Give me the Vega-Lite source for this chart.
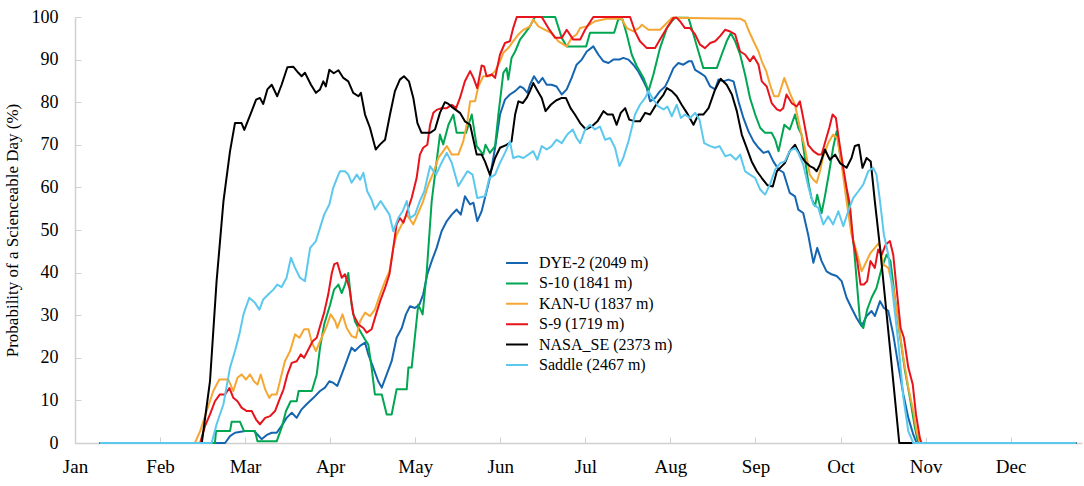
{
"$schema": "https://vega.github.io/schema/vega-lite/v6.json",
"width": 1007, "height": 426,
"autosize": {"type": "none"},
"padding": {"left": 75, "top": 17, "right": 2, "bottom": 43},
"background": "white",
"config": {"view": {"stroke": null}, "font": "Liberation Serif"},
"data": {"values": [
{"s":"DYE-2 (2049 m)","d":10,"v":0},{"s":"DYE-2 (2049 m)","d":55.7,"v":0},{"s":"DYE-2 (2049 m)","d":57.5,"v":1.6},{"s":"DYE-2 (2049 m)","d":59.3,"v":2.4},{"s":"DYE-2 (2049 m)","d":63,"v":2.8},{"s":"DYE-2 (2049 m)","d":66.2,"v":2.8},{"s":"DYE-2 (2049 m)","d":67.5,"v":2},{"s":"DYE-2 (2049 m)","d":69,"v":0.9},{"s":"DYE-2 (2049 m)","d":70.9,"v":1.9},{"s":"DYE-2 (2049 m)","d":72.7,"v":2.4},{"s":"DYE-2 (2049 m)","d":74.5,"v":2.4},{"s":"DYE-2 (2049 m)","d":76.3,"v":4},{"s":"DYE-2 (2049 m)","d":78.1,"v":5.9},{"s":"DYE-2 (2049 m)","d":80,"v":7.1},{"s":"DYE-2 (2049 m)","d":81.8,"v":5.9},{"s":"DYE-2 (2049 m)","d":83.6,"v":7.9},{"s":"DYE-2 (2049 m)","d":85.4,"v":9.1},{"s":"DYE-2 (2049 m)","d":87.9,"v":10.6},{"s":"DYE-2 (2049 m)","d":90.3,"v":12.2},{"s":"DYE-2 (2049 m)","d":92.1,"v":13},{"s":"DYE-2 (2049 m)","d":93.7,"v":14.5},{"s":"DYE-2 (2049 m)","d":95.2,"v":14.1},{"s":"DYE-2 (2049 m)","d":96.6,"v":13.4},{"s":"DYE-2 (2049 m)","d":98.2,"v":16.1},{"s":"DYE-2 (2049 m)","d":100,"v":19.2},{"s":"DYE-2 (2049 m)","d":101.8,"v":22.4},{"s":"DYE-2 (2049 m)","d":103,"v":21.6},{"s":"DYE-2 (2049 m)","d":104.9,"v":22.8},{"s":"DYE-2 (2049 m)","d":106.7,"v":23.6},{"s":"DYE-2 (2049 m)","d":107.9,"v":20.8},{"s":"DYE-2 (2049 m)","d":109.7,"v":17.7},{"s":"DYE-2 (2049 m)","d":111.5,"v":14.5},{"s":"DYE-2 (2049 m)","d":112.8,"v":13},{"s":"DYE-2 (2049 m)","d":114.6,"v":16.1},{"s":"DYE-2 (2049 m)","d":116.4,"v":19.2},{"s":"DYE-2 (2049 m)","d":118.2,"v":24.7},{"s":"DYE-2 (2049 m)","d":120.1,"v":27},{"s":"DYE-2 (2049 m)","d":121.6,"v":30.2},{"s":"DYE-2 (2049 m)","d":123.1,"v":32.1},{"s":"DYE-2 (2049 m)","d":124.9,"v":31.7},{"s":"DYE-2 (2049 m)","d":126.5,"v":32.5},{"s":"DYE-2 (2049 m)","d":127.9,"v":34.9},{"s":"DYE-2 (2049 m)","d":129.4,"v":39.6},{"s":"DYE-2 (2049 m)","d":131,"v":42.7},{"s":"DYE-2 (2049 m)","d":132.8,"v":45.8},{"s":"DYE-2 (2049 m)","d":134.6,"v":49.7},{"s":"DYE-2 (2049 m)","d":136.5,"v":52.1},{"s":"DYE-2 (2049 m)","d":138.3,"v":53.6},{"s":"DYE-2 (2049 m)","d":140.1,"v":54.8},{"s":"DYE-2 (2049 m)","d":141.6,"v":53.6},{"s":"DYE-2 (2049 m)","d":143.1,"v":57.9},{"s":"DYE-2 (2049 m)","d":145,"v":56},{"s":"DYE-2 (2049 m)","d":146.2,"v":56.4},{"s":"DYE-2 (2049 m)","d":147.6,"v":52.1},{"s":"DYE-2 (2049 m)","d":149.2,"v":54.4},{"s":"DYE-2 (2049 m)","d":150.4,"v":57.5},{"s":"DYE-2 (2049 m)","d":152.2,"v":62.2},{"s":"DYE-2 (2049 m)","d":154.1,"v":69.3},{"s":"DYE-2 (2049 m)","d":155.9,"v":77.1},{"s":"DYE-2 (2049 m)","d":157.7,"v":80.6},{"s":"DYE-2 (2049 m)","d":159.5,"v":81.8},{"s":"DYE-2 (2049 m)","d":161.4,"v":82.6},{"s":"DYE-2 (2049 m)","d":163.2,"v":83.7},{"s":"DYE-2 (2049 m)","d":164.4,"v":83.3},{"s":"DYE-2 (2049 m)","d":165.9,"v":82.2},{"s":"DYE-2 (2049 m)","d":166.8,"v":84.1},{"s":"DYE-2 (2049 m)","d":168.3,"v":86.1},{"s":"DYE-2 (2049 m)","d":169.9,"v":84.5},{"s":"DYE-2 (2049 m)","d":171.4,"v":85.7},{"s":"DYE-2 (2049 m)","d":172.9,"v":84.1},{"s":"DYE-2 (2049 m)","d":174.7,"v":84.1},{"s":"DYE-2 (2049 m)","d":176.5,"v":83.7},{"s":"DYE-2 (2049 m)","d":178.4,"v":81.8},{"s":"DYE-2 (2049 m)","d":180.2,"v":83},{"s":"DYE-2 (2049 m)","d":182,"v":85.7},{"s":"DYE-2 (2049 m)","d":183.8,"v":88.8},{"s":"DYE-2 (2049 m)","d":185.7,"v":90},{"s":"DYE-2 (2049 m)","d":187.5,"v":91.9},{"s":"DYE-2 (2049 m)","d":189.9,"v":93.1},{"s":"DYE-2 (2049 m)","d":191.7,"v":91.2},{"s":"DYE-2 (2049 m)","d":193.6,"v":89.6},{"s":"DYE-2 (2049 m)","d":195.4,"v":89.2},{"s":"DYE-2 (2049 m)","d":197.2,"v":90},{"s":"DYE-2 (2049 m)","d":199.4,"v":90},{"s":"DYE-2 (2049 m)","d":200.8,"v":90.4},{"s":"DYE-2 (2049 m)","d":202.7,"v":90},{"s":"DYE-2 (2049 m)","d":204.5,"v":88.8},{"s":"DYE-2 (2049 m)","d":206.3,"v":87.2},{"s":"DYE-2 (2049 m)","d":208.2,"v":84.9},{"s":"DYE-2 (2049 m)","d":209.4,"v":83.3},{"s":"DYE-2 (2049 m)","d":210.6,"v":80.2},{"s":"DYE-2 (2049 m)","d":212.4,"v":81},{"s":"DYE-2 (2049 m)","d":214.2,"v":82.6},{"s":"DYE-2 (2049 m)","d":216.1,"v":83.7},{"s":"DYE-2 (2049 m)","d":217.3,"v":85.3},{"s":"DYE-2 (2049 m)","d":219.1,"v":88},{"s":"DYE-2 (2049 m)","d":220.9,"v":89.2},{"s":"DYE-2 (2049 m)","d":222.7,"v":88.8},{"s":"DYE-2 (2049 m)","d":224.6,"v":89.6},{"s":"DYE-2 (2049 m)","d":225.8,"v":89.6},{"s":"DYE-2 (2049 m)","d":227,"v":87.6},{"s":"DYE-2 (2049 m)","d":228.8,"v":86.9},{"s":"DYE-2 (2049 m)","d":230.6,"v":86.1},{"s":"DYE-2 (2049 m)","d":232.5,"v":83.7},{"s":"DYE-2 (2049 m)","d":234.3,"v":83},{"s":"DYE-2 (2049 m)","d":235.5,"v":85.3},{"s":"DYE-2 (2049 m)","d":237.3,"v":84.9},{"s":"DYE-2 (2049 m)","d":239.1,"v":85.3},{"s":"DYE-2 (2049 m)","d":241,"v":84.9},{"s":"DYE-2 (2049 m)","d":242.8,"v":80.2},{"s":"DYE-2 (2049 m)","d":244.6,"v":76.3},{"s":"DYE-2 (2049 m)","d":246.4,"v":73.2},{"s":"DYE-2 (2049 m)","d":248.3,"v":70.8},{"s":"DYE-2 (2049 m)","d":250.1,"v":69.3},{"s":"DYE-2 (2049 m)","d":251.9,"v":68.1},{"s":"DYE-2 (2049 m)","d":253.7,"v":68.5},{"s":"DYE-2 (2049 m)","d":255.5,"v":66.1},{"s":"DYE-2 (2049 m)","d":257.4,"v":64.2},{"s":"DYE-2 (2049 m)","d":259.2,"v":63.5},{"s":"DYE-2 (2049 m)","d":261.5,"v":58.7},{"s":"DYE-2 (2049 m)","d":263.4,"v":57.9},{"s":"DYE-2 (2049 m)","d":264.6,"v":54.8},{"s":"DYE-2 (2049 m)","d":266.4,"v":54},{"s":"DYE-2 (2049 m)","d":268.2,"v":48.9},{"s":"DYE-2 (2049 m)","d":270.1,"v":42.3},{"s":"DYE-2 (2049 m)","d":271.5,"v":45.8},{"s":"DYE-2 (2049 m)","d":273.1,"v":42.7},{"s":"DYE-2 (2049 m)","d":274.9,"v":40.3},{"s":"DYE-2 (2049 m)","d":276.7,"v":39.6},{"s":"DYE-2 (2049 m)","d":278.6,"v":39.2},{"s":"DYE-2 (2049 m)","d":280.4,"v":38},{"s":"DYE-2 (2049 m)","d":282.2,"v":34.1},{"s":"DYE-2 (2049 m)","d":284,"v":31.7},{"s":"DYE-2 (2049 m)","d":285.8,"v":29.4},{"s":"DYE-2 (2049 m)","d":287.7,"v":27.4},{"s":"DYE-2 (2049 m)","d":289.5,"v":29.8},{"s":"DYE-2 (2049 m)","d":291.3,"v":31},{"s":"DYE-2 (2049 m)","d":292.5,"v":29.8},{"s":"DYE-2 (2049 m)","d":294.4,"v":33.3},{"s":"DYE-2 (2049 m)","d":295.8,"v":31.7},{"s":"DYE-2 (2049 m)","d":297.4,"v":31},{"s":"DYE-2 (2049 m)","d":299.2,"v":25.5},{"s":"DYE-2 (2049 m)","d":301,"v":18.4},{"s":"DYE-2 (2049 m)","d":302.9,"v":11.4},{"s":"DYE-2 (2049 m)","d":304.7,"v":5.9},{"s":"DYE-2 (2049 m)","d":306.5,"v":2},{"s":"DYE-2 (2049 m)","d":307.7,"v":0},{"s":"DYE-2 (2049 m)","d":366,"v":0},
{"s":"S-10 (1841 m)","d":10,"v":0},{"s":"S-10 (1841 m)","d":52,"v":0},{"s":"S-10 (1841 m)","d":52.4,"v":2.8},{"s":"S-10 (1841 m)","d":57.5,"v":2.8},{"s":"S-10 (1841 m)","d":58.1,"v":5},{"s":"S-10 (1841 m)","d":61.1,"v":5},{"s":"S-10 (1841 m)","d":62.6,"v":2.8},{"s":"S-10 (1841 m)","d":66.6,"v":2.8},{"s":"S-10 (1841 m)","d":67.5,"v":0.4},{"s":"S-10 (1841 m)","d":74.5,"v":0.4},{"s":"S-10 (1841 m)","d":76.3,"v":3.6},{"s":"S-10 (1841 m)","d":77.9,"v":7.5},{"s":"S-10 (1841 m)","d":79.6,"v":9.8},{"s":"S-10 (1841 m)","d":81.8,"v":9.8},{"s":"S-10 (1841 m)","d":82.5,"v":12.2},{"s":"S-10 (1841 m)","d":87.3,"v":12.2},{"s":"S-10 (1841 m)","d":89.1,"v":16.1},{"s":"S-10 (1841 m)","d":90.3,"v":22.4},{"s":"S-10 (1841 m)","d":91.8,"v":27.8},{"s":"S-10 (1841 m)","d":94,"v":32.5},{"s":"S-10 (1841 m)","d":95.4,"v":36},{"s":"S-10 (1841 m)","d":97,"v":37.2},{"s":"S-10 (1841 m)","d":98.2,"v":35.2},{"s":"S-10 (1841 m)","d":99.4,"v":37.2},{"s":"S-10 (1841 m)","d":100.6,"v":39.9},{"s":"S-10 (1841 m)","d":101.8,"v":32.5},{"s":"S-10 (1841 m)","d":103,"v":28.6},{"s":"S-10 (1841 m)","d":104.9,"v":26.3},{"s":"S-10 (1841 m)","d":106.7,"v":24.3},{"s":"S-10 (1841 m)","d":107.9,"v":23.1},{"s":"S-10 (1841 m)","d":109.1,"v":17.7},{"s":"S-10 (1841 m)","d":110.3,"v":11.4},{"s":"S-10 (1841 m)","d":112.8,"v":11.4},{"s":"S-10 (1841 m)","d":114.6,"v":6.7},{"s":"S-10 (1841 m)","d":116.4,"v":6.7},{"s":"S-10 (1841 m)","d":118.2,"v":12.6},{"s":"S-10 (1841 m)","d":121.9,"v":12.6},{"s":"S-10 (1841 m)","d":122.5,"v":17.7},{"s":"S-10 (1841 m)","d":123.7,"v":17.7},{"s":"S-10 (1841 m)","d":126.1,"v":32.5},{"s":"S-10 (1841 m)","d":127.7,"v":30.2},{"s":"S-10 (1841 m)","d":129.2,"v":40.3},{"s":"S-10 (1841 m)","d":131,"v":56.8},{"s":"S-10 (1841 m)","d":132.2,"v":63},{"s":"S-10 (1841 m)","d":134,"v":72.4},{"s":"S-10 (1841 m)","d":135.2,"v":70.1},{"s":"S-10 (1841 m)","d":137.1,"v":74.7},{"s":"S-10 (1841 m)","d":138.9,"v":77.1},{"s":"S-10 (1841 m)","d":140.1,"v":72.8},{"s":"S-10 (1841 m)","d":143.5,"v":72.8},{"s":"S-10 (1841 m)","d":145.6,"v":77.1},{"s":"S-10 (1841 m)","d":147.4,"v":69.7},{"s":"S-10 (1841 m)","d":149.8,"v":67.7},{"s":"S-10 (1841 m)","d":150.6,"v":70},{"s":"S-10 (1841 m)","d":152.2,"v":68.1},{"s":"S-10 (1841 m)","d":154.1,"v":69.7},{"s":"S-10 (1841 m)","d":155.3,"v":77.1},{"s":"S-10 (1841 m)","d":157.1,"v":86.9},{"s":"S-10 (1841 m)","d":158.3,"v":88},{"s":"S-10 (1841 m)","d":158.9,"v":85.3},{"s":"S-10 (1841 m)","d":160.1,"v":90.4},{"s":"S-10 (1841 m)","d":161.4,"v":91.9},{"s":"S-10 (1841 m)","d":163.2,"v":94.7},{"s":"S-10 (1841 m)","d":165,"v":96.2},{"s":"S-10 (1841 m)","d":166.8,"v":97.8},{"s":"S-10 (1841 m)","d":168.6,"v":100},{"s":"S-10 (1841 m)","d":176,"v":100},{"s":"S-10 (1841 m)","d":178.4,"v":95.1},{"s":"S-10 (1841 m)","d":180.2,"v":93.1},{"s":"S-10 (1841 m)","d":187.3,"v":93.1},{"s":"S-10 (1841 m)","d":188.7,"v":96.3},{"s":"S-10 (1841 m)","d":197.5,"v":96.3},{"s":"S-10 (1841 m)","d":199,"v":99.5},{"s":"S-10 (1841 m)","d":200.5,"v":99.5},{"s":"S-10 (1841 m)","d":202.1,"v":95.9},{"s":"S-10 (1841 m)","d":203.9,"v":91.2},{"s":"S-10 (1841 m)","d":205.7,"v":88.5},{"s":"S-10 (1841 m)","d":208.2,"v":85.7},{"s":"S-10 (1841 m)","d":210,"v":82.6},{"s":"S-10 (1841 m)","d":211.8,"v":86.5},{"s":"S-10 (1841 m)","d":214.2,"v":92.7},{"s":"S-10 (1841 m)","d":216.7,"v":97.4},{"s":"S-10 (1841 m)","d":218.5,"v":99},{"s":"S-10 (1841 m)","d":219.7,"v":99.8},{"s":"S-10 (1841 m)","d":224.6,"v":99.8},{"s":"S-10 (1841 m)","d":226.4,"v":95.9},{"s":"S-10 (1841 m)","d":228.2,"v":91.9},{"s":"S-10 (1841 m)","d":230,"v":88},{"s":"S-10 (1841 m)","d":234.9,"v":88},{"s":"S-10 (1841 m)","d":236.7,"v":91.2},{"s":"S-10 (1841 m)","d":238.5,"v":94.3},{"s":"S-10 (1841 m)","d":240,"v":96.2},{"s":"S-10 (1841 m)","d":241.6,"v":94.3},{"s":"S-10 (1841 m)","d":243.4,"v":91.2},{"s":"S-10 (1841 m)","d":245.2,"v":86.5},{"s":"S-10 (1841 m)","d":247,"v":81},{"s":"S-10 (1841 m)","d":248.9,"v":77.1},{"s":"S-10 (1841 m)","d":250.7,"v":74},{"s":"S-10 (1841 m)","d":252.5,"v":72.8},{"s":"S-10 (1841 m)","d":254.9,"v":72.8},{"s":"S-10 (1841 m)","d":256.2,"v":71.2},{"s":"S-10 (1841 m)","d":257.4,"v":68.5},{"s":"S-10 (1841 m)","d":259.5,"v":74.7},{"s":"S-10 (1841 m)","d":261.5,"v":73.6},{"s":"S-10 (1841 m)","d":263.4,"v":77.1},{"s":"S-10 (1841 m)","d":264.6,"v":74},{"s":"S-10 (1841 m)","d":265.8,"v":72.4},{"s":"S-10 (1841 m)","d":267,"v":66.9},{"s":"S-10 (1841 m)","d":268.2,"v":61.4},{"s":"S-10 (1841 m)","d":269.4,"v":57.5},{"s":"S-10 (1841 m)","d":270.7,"v":55.6},{"s":"S-10 (1841 m)","d":271.5,"v":58.3},{"s":"S-10 (1841 m)","d":273.1,"v":54},{"s":"S-10 (1841 m)","d":274.3,"v":57.9},{"s":"S-10 (1841 m)","d":275.9,"v":63.8},{"s":"S-10 (1841 m)","d":277.3,"v":69.3},{"s":"S-10 (1841 m)","d":278.6,"v":73.2},{"s":"S-10 (1841 m)","d":279.8,"v":67.7},{"s":"S-10 (1841 m)","d":281.6,"v":61.4},{"s":"S-10 (1841 m)","d":283.4,"v":53.6},{"s":"S-10 (1841 m)","d":284.9,"v":45.8},{"s":"S-10 (1841 m)","d":286.1,"v":36.4},{"s":"S-10 (1841 m)","d":287.1,"v":28.6},{"s":"S-10 (1841 m)","d":288.3,"v":27},{"s":"S-10 (1841 m)","d":289.7,"v":31.3},{"s":"S-10 (1841 m)","d":291.3,"v":34.1},{"s":"S-10 (1841 m)","d":293.1,"v":36.4},{"s":"S-10 (1841 m)","d":295,"v":41.1},{"s":"S-10 (1841 m)","d":296.8,"v":44.2},{"s":"S-10 (1841 m)","d":298.2,"v":42.7},{"s":"S-10 (1841 m)","d":299.8,"v":34.1},{"s":"S-10 (1841 m)","d":301.6,"v":25.5},{"s":"S-10 (1841 m)","d":303.5,"v":16.9},{"s":"S-10 (1841 m)","d":305.3,"v":10.6},{"s":"S-10 (1841 m)","d":307.1,"v":3.6},{"s":"S-10 (1841 m)","d":308.3,"v":0},{"s":"S-10 (1841 m)","d":366,"v":0},
{"s":"KAN-U (1837 m)","d":10,"v":0},{"s":"KAN-U (1837 m)","d":44.7,"v":0},{"s":"KAN-U (1837 m)","d":46.6,"v":2.8},{"s":"KAN-U (1837 m)","d":49,"v":7.5},{"s":"KAN-U (1837 m)","d":51.4,"v":12.2},{"s":"KAN-U (1837 m)","d":53.6,"v":14.9},{"s":"KAN-U (1837 m)","d":56.9,"v":14.9},{"s":"KAN-U (1837 m)","d":58.7,"v":12.2},{"s":"KAN-U (1837 m)","d":60.2,"v":15.3},{"s":"KAN-U (1837 m)","d":61.7,"v":16.1},{"s":"KAN-U (1837 m)","d":63.3,"v":14.9},{"s":"KAN-U (1837 m)","d":64.8,"v":16.1},{"s":"KAN-U (1837 m)","d":66.2,"v":14.5},{"s":"KAN-U (1837 m)","d":67.5,"v":13.7},{"s":"KAN-U (1837 m)","d":68.7,"v":16.1},{"s":"KAN-U (1837 m)","d":70.3,"v":12.6},{"s":"KAN-U (1837 m)","d":71.8,"v":10.6},{"s":"KAN-U (1837 m)","d":72.7,"v":11.4},{"s":"KAN-U (1837 m)","d":74.5,"v":11.4},{"s":"KAN-U (1837 m)","d":76,"v":15.3},{"s":"KAN-U (1837 m)","d":77.5,"v":19.2},{"s":"KAN-U (1837 m)","d":79.4,"v":21.6},{"s":"KAN-U (1837 m)","d":81.2,"v":25.5},{"s":"KAN-U (1837 m)","d":82.8,"v":24.7},{"s":"KAN-U (1837 m)","d":84.5,"v":26.7},{"s":"KAN-U (1837 m)","d":86.1,"v":26.7},{"s":"KAN-U (1837 m)","d":87.3,"v":23.6},{"s":"KAN-U (1837 m)","d":88.8,"v":21.6},{"s":"KAN-U (1837 m)","d":90.6,"v":24.3},{"s":"KAN-U (1837 m)","d":92.7,"v":27.4},{"s":"KAN-U (1837 m)","d":94.2,"v":30.2},{"s":"KAN-U (1837 m)","d":95.8,"v":28.6},{"s":"KAN-U (1837 m)","d":96.6,"v":27},{"s":"KAN-U (1837 m)","d":98.5,"v":30.2},{"s":"KAN-U (1837 m)","d":100,"v":27},{"s":"KAN-U (1837 m)","d":101.8,"v":25.1},{"s":"KAN-U (1837 m)","d":103.4,"v":24.7},{"s":"KAN-U (1837 m)","d":104.9,"v":28.6},{"s":"KAN-U (1837 m)","d":106.7,"v":30.6},{"s":"KAN-U (1837 m)","d":108.5,"v":29.8},{"s":"KAN-U (1837 m)","d":110.3,"v":31.3},{"s":"KAN-U (1837 m)","d":112.2,"v":34.9},{"s":"KAN-U (1837 m)","d":114,"v":38},{"s":"KAN-U (1837 m)","d":115.6,"v":40.3},{"s":"KAN-U (1837 m)","d":117,"v":45.8},{"s":"KAN-U (1837 m)","d":118.2,"v":48.9},{"s":"KAN-U (1837 m)","d":120.1,"v":51.3},{"s":"KAN-U (1837 m)","d":121.9,"v":53.6},{"s":"KAN-U (1837 m)","d":124.3,"v":51.3},{"s":"KAN-U (1837 m)","d":126.1,"v":54},{"s":"KAN-U (1837 m)","d":127.9,"v":56.8},{"s":"KAN-U (1837 m)","d":129.8,"v":60.7},{"s":"KAN-U (1837 m)","d":131.6,"v":63.4},{"s":"KAN-U (1837 m)","d":133.4,"v":66.9},{"s":"KAN-U (1837 m)","d":135.2,"v":68.5},{"s":"KAN-U (1837 m)","d":136.5,"v":69.7},{"s":"KAN-U (1837 m)","d":138.3,"v":67.7},{"s":"KAN-U (1837 m)","d":140.7,"v":67.7},{"s":"KAN-U (1837 m)","d":142.5,"v":70.8},{"s":"KAN-U (1837 m)","d":144,"v":75.5},{"s":"KAN-U (1837 m)","d":145,"v":80.2},{"s":"KAN-U (1837 m)","d":146.8,"v":80.2},{"s":"KAN-U (1837 m)","d":148,"v":83.7},{"s":"KAN-U (1837 m)","d":149.8,"v":86.1},{"s":"KAN-U (1837 m)","d":152.2,"v":86.1},{"s":"KAN-U (1837 m)","d":154.1,"v":87.3},{"s":"KAN-U (1837 m)","d":155.9,"v":89.6},{"s":"KAN-U (1837 m)","d":157.1,"v":91.6},{"s":"KAN-U (1837 m)","d":158.9,"v":92.7},{"s":"KAN-U (1837 m)","d":160.7,"v":94.3},{"s":"KAN-U (1837 m)","d":162.6,"v":95.9},{"s":"KAN-U (1837 m)","d":164.4,"v":97},{"s":"KAN-U (1837 m)","d":166.8,"v":97.8},{"s":"KAN-U (1837 m)","d":168,"v":99.4},{"s":"KAN-U (1837 m)","d":169.9,"v":97.8},{"s":"KAN-U (1837 m)","d":172.3,"v":97},{"s":"KAN-U (1837 m)","d":174.7,"v":96.2},{"s":"KAN-U (1837 m)","d":177.2,"v":94.3},{"s":"KAN-U (1837 m)","d":180.2,"v":93.1},{"s":"KAN-U (1837 m)","d":182,"v":95.1},{"s":"KAN-U (1837 m)","d":183.8,"v":95.9},{"s":"KAN-U (1837 m)","d":185.1,"v":97.4},{"s":"KAN-U (1837 m)","d":187.5,"v":97.8},{"s":"KAN-U (1837 m)","d":190.5,"v":99},{"s":"KAN-U (1837 m)","d":194.8,"v":99.6},{"s":"KAN-U (1837 m)","d":200.2,"v":99.6},{"s":"KAN-U (1837 m)","d":202.1,"v":97.4},{"s":"KAN-U (1837 m)","d":204.5,"v":96.6},{"s":"KAN-U (1837 m)","d":206.7,"v":97.5},{"s":"KAN-U (1837 m)","d":207.6,"v":98.2},{"s":"KAN-U (1837 m)","d":210,"v":97},{"s":"KAN-U (1837 m)","d":214.2,"v":97},{"s":"KAN-U (1837 m)","d":216.7,"v":98.6},{"s":"KAN-U (1837 m)","d":218.5,"v":99.8},{"s":"KAN-U (1837 m)","d":243.4,"v":99.6},{"s":"KAN-U (1837 m)","d":245.2,"v":99},{"s":"KAN-U (1837 m)","d":246.4,"v":97},{"s":"KAN-U (1837 m)","d":248.3,"v":94.3},{"s":"KAN-U (1837 m)","d":250.1,"v":91.9},{"s":"KAN-U (1837 m)","d":251.3,"v":89.6},{"s":"KAN-U (1837 m)","d":252.9,"v":87.3},{"s":"KAN-U (1837 m)","d":254.3,"v":84.1},{"s":"KAN-U (1837 m)","d":255.8,"v":81.4},{"s":"KAN-U (1837 m)","d":257.4,"v":81.4},{"s":"KAN-U (1837 m)","d":259.5,"v":85.7},{"s":"KAN-U (1837 m)","d":261.5,"v":82.2},{"s":"KAN-U (1837 m)","d":263.4,"v":79.4},{"s":"KAN-U (1837 m)","d":265.2,"v":74},{"s":"KAN-U (1837 m)","d":267,"v":69.3},{"s":"KAN-U (1837 m)","d":268.8,"v":63},{"s":"KAN-U (1837 m)","d":270.1,"v":61.8},{"s":"KAN-U (1837 m)","d":271.3,"v":61.1},{"s":"KAN-U (1837 m)","d":272.5,"v":63.8},{"s":"KAN-U (1837 m)","d":273.7,"v":67.3},{"s":"KAN-U (1837 m)","d":275.5,"v":70.4},{"s":"KAN-U (1837 m)","d":277.3,"v":72.4},{"s":"KAN-U (1837 m)","d":278.8,"v":71.6},{"s":"KAN-U (1837 m)","d":280.4,"v":65.4},{"s":"KAN-U (1837 m)","d":282.2,"v":56.7},{"s":"KAN-U (1837 m)","d":284,"v":48.9},{"s":"KAN-U (1837 m)","d":285.8,"v":45},{"s":"KAN-U (1837 m)","d":287.7,"v":40.3},{"s":"KAN-U (1837 m)","d":289.2,"v":42.3},{"s":"KAN-U (1837 m)","d":290.9,"v":44.6},{"s":"KAN-U (1837 m)","d":292.5,"v":45.8},{"s":"KAN-U (1837 m)","d":294,"v":47},{"s":"KAN-U (1837 m)","d":295.6,"v":41.9},{"s":"KAN-U (1837 m)","d":297.4,"v":41.1},{"s":"KAN-U (1837 m)","d":299.2,"v":36.4},{"s":"KAN-U (1837 m)","d":301,"v":28.6},{"s":"KAN-U (1837 m)","d":302.9,"v":20},{"s":"KAN-U (1837 m)","d":304.7,"v":13},{"s":"KAN-U (1837 m)","d":306.5,"v":7.5},{"s":"KAN-U (1837 m)","d":307.7,"v":2.8},{"s":"KAN-U (1837 m)","d":308.9,"v":0},{"s":"KAN-U (1837 m)","d":366,"v":0},
{"s":"S-9 (1719 m)","d":10,"v":0},{"s":"S-9 (1719 m)","d":46.6,"v":0},{"s":"S-9 (1719 m)","d":48.4,"v":4},{"s":"S-9 (1719 m)","d":50.2,"v":6.7},{"s":"S-9 (1719 m)","d":52,"v":9.8},{"s":"S-9 (1719 m)","d":53.8,"v":11.4},{"s":"S-9 (1719 m)","d":55.7,"v":11.4},{"s":"S-9 (1719 m)","d":57.3,"v":12.9},{"s":"S-9 (1719 m)","d":58.7,"v":10.6},{"s":"S-9 (1719 m)","d":60.2,"v":9.8},{"s":"S-9 (1719 m)","d":61.7,"v":8.3},{"s":"S-9 (1719 m)","d":63.6,"v":7.5},{"s":"S-9 (1719 m)","d":65.4,"v":7.5},{"s":"S-9 (1719 m)","d":67,"v":5.5},{"s":"S-9 (1719 m)","d":68.4,"v":4.4},{"s":"S-9 (1719 m)","d":70.3,"v":5.9},{"s":"S-9 (1719 m)","d":72.1,"v":6.3},{"s":"S-9 (1719 m)","d":73.9,"v":7.5},{"s":"S-9 (1719 m)","d":75.5,"v":10.2},{"s":"S-9 (1719 m)","d":77,"v":12.6},{"s":"S-9 (1719 m)","d":78.4,"v":16.1},{"s":"S-9 (1719 m)","d":80,"v":18.8},{"s":"S-9 (1719 m)","d":81.8,"v":19.2},{"s":"S-9 (1719 m)","d":83.3,"v":20.8},{"s":"S-9 (1719 m)","d":84.5,"v":20},{"s":"S-9 (1719 m)","d":86.1,"v":22},{"s":"S-9 (1719 m)","d":87.6,"v":23.9},{"s":"S-9 (1719 m)","d":89.1,"v":24.7},{"s":"S-9 (1719 m)","d":90.3,"v":27.4},{"s":"S-9 (1719 m)","d":91.8,"v":30.6},{"s":"S-9 (1719 m)","d":93.3,"v":34.9},{"s":"S-9 (1719 m)","d":94.6,"v":39.9},{"s":"S-9 (1719 m)","d":95.5,"v":42},{"s":"S-9 (1719 m)","d":96.6,"v":42.3},{"s":"S-9 (1719 m)","d":98.2,"v":38.8},{"s":"S-9 (1719 m)","d":99.4,"v":39.6},{"s":"S-9 (1719 m)","d":101,"v":36.4},{"s":"S-9 (1719 m)","d":102.4,"v":30.2},{"s":"S-9 (1719 m)","d":104.3,"v":27.8},{"s":"S-9 (1719 m)","d":106.1,"v":27},{"s":"S-9 (1719 m)","d":107.3,"v":25.9},{"s":"S-9 (1719 m)","d":109.1,"v":26.7},{"s":"S-9 (1719 m)","d":110.7,"v":30.2},{"s":"S-9 (1719 m)","d":112.2,"v":33.3},{"s":"S-9 (1719 m)","d":114,"v":36.4},{"s":"S-9 (1719 m)","d":115.6,"v":39.6},{"s":"S-9 (1719 m)","d":117,"v":45.8},{"s":"S-9 (1719 m)","d":118.2,"v":51.3},{"s":"S-9 (1719 m)","d":119.4,"v":52.8},{"s":"S-9 (1719 m)","d":120.7,"v":51.7},{"s":"S-9 (1719 m)","d":122.1,"v":54.4},{"s":"S-9 (1719 m)","d":123.7,"v":57.5},{"s":"S-9 (1719 m)","d":125.5,"v":62.2},{"s":"S-9 (1719 m)","d":126.7,"v":67.7},{"s":"S-9 (1719 m)","d":127.9,"v":69.3},{"s":"S-9 (1719 m)","d":129.4,"v":70},{"s":"S-9 (1719 m)","d":130.4,"v":74.7},{"s":"S-9 (1719 m)","d":131.6,"v":77.5},{"s":"S-9 (1719 m)","d":132.8,"v":78.2},{"s":"S-9 (1719 m)","d":134.6,"v":78.6},{"s":"S-9 (1719 m)","d":136.5,"v":78.6},{"s":"S-9 (1719 m)","d":138.3,"v":79.4},{"s":"S-9 (1719 m)","d":139.9,"v":78.6},{"s":"S-9 (1719 m)","d":141.3,"v":81},{"s":"S-9 (1719 m)","d":143.1,"v":84.9},{"s":"S-9 (1719 m)","d":145,"v":87.3},{"s":"S-9 (1719 m)","d":146.2,"v":85.7},{"s":"S-9 (1719 m)","d":147.6,"v":83.3},{"s":"S-9 (1719 m)","d":149.2,"v":88.6},{"s":"S-9 (1719 m)","d":150.1,"v":88.4},{"s":"S-9 (1719 m)","d":151,"v":86.1},{"s":"S-9 (1719 m)","d":152.9,"v":86.5},{"s":"S-9 (1719 m)","d":154.1,"v":85.7},{"s":"S-9 (1719 m)","d":155.9,"v":91.2},{"s":"S-9 (1719 m)","d":157.7,"v":93.9},{"s":"S-9 (1719 m)","d":159.5,"v":94.3},{"s":"S-9 (1719 m)","d":160.7,"v":97.4},{"s":"S-9 (1719 m)","d":162,"v":100},{"s":"S-9 (1719 m)","d":171.1,"v":100},{"s":"S-9 (1719 m)","d":173.5,"v":97.4},{"s":"S-9 (1719 m)","d":176,"v":95.1},{"s":"S-9 (1719 m)","d":178.4,"v":95.1},{"s":"S-9 (1719 m)","d":180.2,"v":97},{"s":"S-9 (1719 m)","d":182.6,"v":94.7},{"s":"S-9 (1719 m)","d":185.1,"v":94.7},{"s":"S-9 (1719 m)","d":186.9,"v":97},{"s":"S-9 (1719 m)","d":189.3,"v":99.4},{"s":"S-9 (1719 m)","d":189.9,"v":100},{"s":"S-9 (1719 m)","d":203.3,"v":100},{"s":"S-9 (1719 m)","d":205.1,"v":96.6},{"s":"S-9 (1719 m)","d":206.9,"v":94.3},{"s":"S-9 (1719 m)","d":209.4,"v":92.7},{"s":"S-9 (1719 m)","d":212.4,"v":92.7},{"s":"S-9 (1719 m)","d":214.2,"v":94.7},{"s":"S-9 (1719 m)","d":216.7,"v":97.4},{"s":"S-9 (1719 m)","d":219.1,"v":99.8},{"s":"S-9 (1719 m)","d":220.3,"v":99.8},{"s":"S-9 (1719 m)","d":221.5,"v":99},{"s":"S-9 (1719 m)","d":223.3,"v":97.4},{"s":"S-9 (1719 m)","d":225.2,"v":97.4},{"s":"S-9 (1719 m)","d":227,"v":95.9},{"s":"S-9 (1719 m)","d":228.8,"v":93.5},{"s":"S-9 (1719 m)","d":230.6,"v":92.7},{"s":"S-9 (1719 m)","d":232.5,"v":93.9},{"s":"S-9 (1719 m)","d":234.3,"v":94.3},{"s":"S-9 (1719 m)","d":236.1,"v":95.5},{"s":"S-9 (1719 m)","d":237.9,"v":97},{"s":"S-9 (1719 m)","d":239.8,"v":96.6},{"s":"S-9 (1719 m)","d":241.6,"v":95.9},{"s":"S-9 (1719 m)","d":243.4,"v":91.9},{"s":"S-9 (1719 m)","d":245.2,"v":91.2},{"s":"S-9 (1719 m)","d":247,"v":89.6},{"s":"S-9 (1719 m)","d":248.3,"v":90.8},{"s":"S-9 (1719 m)","d":250.1,"v":88.8},{"s":"S-9 (1719 m)","d":251.3,"v":84.9},{"s":"S-9 (1719 m)","d":253.1,"v":83.7},{"s":"S-9 (1719 m)","d":254.9,"v":79.8},{"s":"S-9 (1719 m)","d":256.8,"v":78.3},{"s":"S-9 (1719 m)","d":258,"v":78},{"s":"S-9 (1719 m)","d":259.1,"v":78.6},{"s":"S-9 (1719 m)","d":260.3,"v":81.8},{"s":"S-9 (1719 m)","d":262.2,"v":79.8},{"s":"S-9 (1719 m)","d":264,"v":79},{"s":"S-9 (1719 m)","d":265.2,"v":80.2},{"s":"S-9 (1719 m)","d":266.4,"v":76.3},{"s":"S-9 (1719 m)","d":268.2,"v":70},{"s":"S-9 (1719 m)","d":270.1,"v":68.5},{"s":"S-9 (1719 m)","d":271.9,"v":67.7},{"s":"S-9 (1719 m)","d":273.1,"v":67.7},{"s":"S-9 (1719 m)","d":274.3,"v":70.4},{"s":"S-9 (1719 m)","d":275.9,"v":74},{"s":"S-9 (1719 m)","d":277.1,"v":77.1},{"s":"S-9 (1719 m)","d":278.3,"v":76.3},{"s":"S-9 (1719 m)","d":279.5,"v":70.8},{"s":"S-9 (1719 m)","d":281,"v":64.6},{"s":"S-9 (1719 m)","d":282.2,"v":59.9},{"s":"S-9 (1719 m)","d":283.4,"v":56},{"s":"S-9 (1719 m)","d":284.6,"v":47.4},{"s":"S-9 (1719 m)","d":286.1,"v":42.7},{"s":"S-9 (1719 m)","d":287.3,"v":37.2},{"s":"S-9 (1719 m)","d":288.5,"v":37.2},{"s":"S-9 (1719 m)","d":289.7,"v":38},{"s":"S-9 (1719 m)","d":290.9,"v":42.7},{"s":"S-9 (1719 m)","d":292.5,"v":41.1},{"s":"S-9 (1719 m)","d":293.7,"v":45.4},{"s":"S-9 (1719 m)","d":295,"v":44.2},{"s":"S-9 (1719 m)","d":296.5,"v":46.6},{"s":"S-9 (1719 m)","d":298,"v":47.4},{"s":"S-9 (1719 m)","d":299.2,"v":44.2},{"s":"S-9 (1719 m)","d":300.4,"v":36.4},{"s":"S-9 (1719 m)","d":301.9,"v":27},{"s":"S-9 (1719 m)","d":303.1,"v":24.7},{"s":"S-9 (1719 m)","d":304.7,"v":17.7},{"s":"S-9 (1719 m)","d":306.3,"v":13.8},{"s":"S-9 (1719 m)","d":307.5,"v":6.7},{"s":"S-9 (1719 m)","d":308.9,"v":1.2},{"s":"S-9 (1719 m)","d":309.5,"v":0},{"s":"S-9 (1719 m)","d":366,"v":0},
{"s":"NASA_SE (2373 m)","d":10,"v":0},{"s":"NASA_SE (2373 m)","d":47.2,"v":0},{"s":"NASA_SE (2373 m)","d":50.2,"v":14.5},{"s":"NASA_SE (2373 m)","d":52.6,"v":38},{"s":"NASA_SE (2373 m)","d":55.1,"v":56.7},{"s":"NASA_SE (2373 m)","d":57.5,"v":68.5},{"s":"NASA_SE (2373 m)","d":59.3,"v":75.1},{"s":"NASA_SE (2373 m)","d":61.7,"v":75.1},{"s":"NASA_SE (2373 m)","d":62.7,"v":73.5},{"s":"NASA_SE (2373 m)","d":65.4,"v":77.9},{"s":"NASA_SE (2373 m)","d":67,"v":80.6},{"s":"NASA_SE (2373 m)","d":68.4,"v":81},{"s":"NASA_SE (2373 m)","d":69.6,"v":79.6},{"s":"NASA_SE (2373 m)","d":71.1,"v":83},{"s":"NASA_SE (2373 m)","d":72.7,"v":84.1},{"s":"NASA_SE (2373 m)","d":74.7,"v":81.4},{"s":"NASA_SE (2373 m)","d":76.3,"v":84.1},{"s":"NASA_SE (2373 m)","d":78.4,"v":88.2},{"s":"NASA_SE (2373 m)","d":80.6,"v":88.3},{"s":"NASA_SE (2373 m)","d":82.4,"v":86.9},{"s":"NASA_SE (2373 m)","d":83.6,"v":86.1},{"s":"NASA_SE (2373 m)","d":84.8,"v":86.9},{"s":"NASA_SE (2373 m)","d":87,"v":84.1},{"s":"NASA_SE (2373 m)","d":88.8,"v":82.2},{"s":"NASA_SE (2373 m)","d":90.3,"v":83},{"s":"NASA_SE (2373 m)","d":91.5,"v":84.9},{"s":"NASA_SE (2373 m)","d":92.4,"v":83.7},{"s":"NASA_SE (2373 m)","d":93.7,"v":87.6},{"s":"NASA_SE (2373 m)","d":95.3,"v":86.8},{"s":"NASA_SE (2373 m)","d":97,"v":87.5},{"s":"NASA_SE (2373 m)","d":98.8,"v":85.7},{"s":"NASA_SE (2373 m)","d":100.6,"v":84.9},{"s":"NASA_SE (2373 m)","d":102.4,"v":82.2},{"s":"NASA_SE (2373 m)","d":104.3,"v":81.4},{"s":"NASA_SE (2373 m)","d":105.2,"v":82.2},{"s":"NASA_SE (2373 m)","d":106.7,"v":77.1},{"s":"NASA_SE (2373 m)","d":108.5,"v":74},{"s":"NASA_SE (2373 m)","d":110.6,"v":68.9},{"s":"NASA_SE (2373 m)","d":112.2,"v":70.1},{"s":"NASA_SE (2373 m)","d":114,"v":71.2},{"s":"NASA_SE (2373 m)","d":115.8,"v":77.1},{"s":"NASA_SE (2373 m)","d":117.6,"v":82.6},{"s":"NASA_SE (2373 m)","d":119.4,"v":85.3},{"s":"NASA_SE (2373 m)","d":120.9,"v":86.1},{"s":"NASA_SE (2373 m)","d":122.7,"v":84.9},{"s":"NASA_SE (2373 m)","d":124.3,"v":81},{"s":"NASA_SE (2373 m)","d":125.8,"v":75.1},{"s":"NASA_SE (2373 m)","d":127.3,"v":72.8},{"s":"NASA_SE (2373 m)","d":130.4,"v":72.8},{"s":"NASA_SE (2373 m)","d":132.2,"v":73.6},{"s":"NASA_SE (2373 m)","d":134,"v":77.5},{"s":"NASA_SE (2373 m)","d":135.8,"v":80},{"s":"NASA_SE (2373 m)","d":137.1,"v":79.6},{"s":"NASA_SE (2373 m)","d":138.9,"v":78.6},{"s":"NASA_SE (2373 m)","d":141.3,"v":77.5},{"s":"NASA_SE (2373 m)","d":143.1,"v":75.5},{"s":"NASA_SE (2373 m)","d":145,"v":74.7},{"s":"NASA_SE (2373 m)","d":147.4,"v":67.7},{"s":"NASA_SE (2373 m)","d":149.2,"v":67.7},{"s":"NASA_SE (2373 m)","d":150.4,"v":66.1},{"s":"NASA_SE (2373 m)","d":152.2,"v":63},{"s":"NASA_SE (2373 m)","d":154.1,"v":66.9},{"s":"NASA_SE (2373 m)","d":155.9,"v":69.3},{"s":"NASA_SE (2373 m)","d":158.3,"v":70},{"s":"NASA_SE (2373 m)","d":160.1,"v":70.8},{"s":"NASA_SE (2373 m)","d":161.4,"v":77.1},{"s":"NASA_SE (2373 m)","d":162.6,"v":80.2},{"s":"NASA_SE (2373 m)","d":164.2,"v":79.8},{"s":"NASA_SE (2373 m)","d":165.6,"v":81},{"s":"NASA_SE (2373 m)","d":166.8,"v":82.6},{"s":"NASA_SE (2373 m)","d":168,"v":84.5},{"s":"NASA_SE (2373 m)","d":169.3,"v":83},{"s":"NASA_SE (2373 m)","d":171.1,"v":81},{"s":"NASA_SE (2373 m)","d":172.5,"v":77.9},{"s":"NASA_SE (2373 m)","d":174.4,"v":79.4},{"s":"NASA_SE (2373 m)","d":176.3,"v":80.4},{"s":"NASA_SE (2373 m)","d":178.4,"v":81},{"s":"NASA_SE (2373 m)","d":179.9,"v":81},{"s":"NASA_SE (2373 m)","d":181.6,"v":78.6},{"s":"NASA_SE (2373 m)","d":183.2,"v":77.1},{"s":"NASA_SE (2373 m)","d":185.1,"v":75.1},{"s":"NASA_SE (2373 m)","d":187.2,"v":73.6},{"s":"NASA_SE (2373 m)","d":189.3,"v":74.3},{"s":"NASA_SE (2373 m)","d":191.4,"v":75.5},{"s":"NASA_SE (2373 m)","d":193.6,"v":77.9},{"s":"NASA_SE (2373 m)","d":195.1,"v":77.1},{"s":"NASA_SE (2373 m)","d":197,"v":77.1},{"s":"NASA_SE (2373 m)","d":198.4,"v":74.7},{"s":"NASA_SE (2373 m)","d":199.9,"v":77.5},{"s":"NASA_SE (2373 m)","d":201.5,"v":78.6},{"s":"NASA_SE (2373 m)","d":203,"v":75.9},{"s":"NASA_SE (2373 m)","d":205.1,"v":75.5},{"s":"NASA_SE (2373 m)","d":206.9,"v":75.5},{"s":"NASA_SE (2373 m)","d":208.8,"v":77.5},{"s":"NASA_SE (2373 m)","d":210.6,"v":77.1},{"s":"NASA_SE (2373 m)","d":212,"v":78.6},{"s":"NASA_SE (2373 m)","d":213.6,"v":80.2},{"s":"NASA_SE (2373 m)","d":215.5,"v":81.8},{"s":"NASA_SE (2373 m)","d":216.7,"v":83.3},{"s":"NASA_SE (2373 m)","d":218.5,"v":82.6},{"s":"NASA_SE (2373 m)","d":220.3,"v":81.4},{"s":"NASA_SE (2373 m)","d":222.1,"v":79.4},{"s":"NASA_SE (2373 m)","d":224,"v":77.5},{"s":"NASA_SE (2373 m)","d":226.4,"v":74.7},{"s":"NASA_SE (2373 m)","d":228.2,"v":77.1},{"s":"NASA_SE (2373 m)","d":230,"v":77.1},{"s":"NASA_SE (2373 m)","d":231.9,"v":78.6},{"s":"NASA_SE (2373 m)","d":234.3,"v":83},{"s":"NASA_SE (2373 m)","d":236.3,"v":85.5},{"s":"NASA_SE (2373 m)","d":238.5,"v":84.1},{"s":"NASA_SE (2373 m)","d":240.4,"v":81.8},{"s":"NASA_SE (2373 m)","d":242.2,"v":77.9},{"s":"NASA_SE (2373 m)","d":244,"v":72.4},{"s":"NASA_SE (2373 m)","d":245.8,"v":69.3},{"s":"NASA_SE (2373 m)","d":247.6,"v":66.1},{"s":"NASA_SE (2373 m)","d":249.5,"v":63.8},{"s":"NASA_SE (2373 m)","d":251.3,"v":62.2},{"s":"NASA_SE (2373 m)","d":253.4,"v":60.5},{"s":"NASA_SE (2373 m)","d":255.3,"v":60.2},{"s":"NASA_SE (2373 m)","d":256.8,"v":63.8},{"s":"NASA_SE (2373 m)","d":258.6,"v":65},{"s":"NASA_SE (2373 m)","d":259.7,"v":65.7},{"s":"NASA_SE (2373 m)","d":261.5,"v":68.5},{"s":"NASA_SE (2373 m)","d":263.4,"v":70},{"s":"NASA_SE (2373 m)","d":265.2,"v":67.7},{"s":"NASA_SE (2373 m)","d":267,"v":66.1},{"s":"NASA_SE (2373 m)","d":268.8,"v":65},{"s":"NASA_SE (2373 m)","d":270.1,"v":64.6},{"s":"NASA_SE (2373 m)","d":271.3,"v":63.8},{"s":"NASA_SE (2373 m)","d":272.5,"v":65.4},{"s":"NASA_SE (2373 m)","d":274.3,"v":68.9},{"s":"NASA_SE (2373 m)","d":276.1,"v":66.5},{"s":"NASA_SE (2373 m)","d":278,"v":67.7},{"s":"NASA_SE (2373 m)","d":279.8,"v":65.7},{"s":"NASA_SE (2373 m)","d":282.2,"v":64.6},{"s":"NASA_SE (2373 m)","d":284,"v":66.9},{"s":"NASA_SE (2373 m)","d":285.2,"v":69.7},{"s":"NASA_SE (2373 m)","d":286.7,"v":70},{"s":"NASA_SE (2373 m)","d":288,"v":64.6},{"s":"NASA_SE (2373 m)","d":289.5,"v":66.9},{"s":"NASA_SE (2373 m)","d":291,"v":66.1},{"s":"NASA_SE (2373 m)","d":292.5,"v":56.7},{"s":"NASA_SE (2373 m)","d":294.4,"v":45.8},{"s":"NASA_SE (2373 m)","d":296.2,"v":34.1},{"s":"NASA_SE (2373 m)","d":298,"v":22.4},{"s":"NASA_SE (2373 m)","d":299.8,"v":10.6},{"s":"NASA_SE (2373 m)","d":301.4,"v":0},{"s":"NASA_SE (2373 m)","d":366,"v":0},
{"s":"Saddle (2467 m)","d":10,"v":0},{"s":"Saddle (2467 m)","d":50.8,"v":0},{"s":"Saddle (2467 m)","d":52.6,"v":4.4},{"s":"Saddle (2467 m)","d":55.1,"v":9.1},{"s":"Saddle (2467 m)","d":57.5,"v":17.7},{"s":"Saddle (2467 m)","d":59.3,"v":21.6},{"s":"Saddle (2467 m)","d":60.9,"v":25.5},{"s":"Saddle (2467 m)","d":62.4,"v":30.2},{"s":"Saddle (2467 m)","d":64.5,"v":34.1},{"s":"Saddle (2467 m)","d":66.6,"v":32.9},{"s":"Saddle (2467 m)","d":68.2,"v":31.3},{"s":"Saddle (2467 m)","d":69.6,"v":33.7},{"s":"Saddle (2467 m)","d":71.5,"v":34.9},{"s":"Saddle (2467 m)","d":73.3,"v":36},{"s":"Saddle (2467 m)","d":74.7,"v":37.2},{"s":"Saddle (2467 m)","d":76.3,"v":36.6},{"s":"Saddle (2467 m)","d":78.1,"v":38.8},{"s":"Saddle (2467 m)","d":79.7,"v":43.5},{"s":"Saddle (2467 m)","d":81.2,"v":41.1},{"s":"Saddle (2467 m)","d":83,"v":38.8},{"s":"Saddle (2467 m)","d":84.8,"v":38},{"s":"Saddle (2467 m)","d":86.7,"v":45.8},{"s":"Saddle (2467 m)","d":88.8,"v":47.4},{"s":"Saddle (2467 m)","d":90.3,"v":50.5},{"s":"Saddle (2467 m)","d":91.8,"v":53.6},{"s":"Saddle (2467 m)","d":93.7,"v":56},{"s":"Saddle (2467 m)","d":95.1,"v":59.9},{"s":"Saddle (2467 m)","d":97,"v":63},{"s":"Saddle (2467 m)","d":97.6,"v":63.8},{"s":"Saddle (2467 m)","d":99.4,"v":63.8},{"s":"Saddle (2467 m)","d":100.6,"v":63},{"s":"Saddle (2467 m)","d":101.8,"v":61.1},{"s":"Saddle (2467 m)","d":103.7,"v":63},{"s":"Saddle (2467 m)","d":104.9,"v":61.8},{"s":"Saddle (2467 m)","d":106.1,"v":63.4},{"s":"Saddle (2467 m)","d":107.5,"v":59.1},{"s":"Saddle (2467 m)","d":109.1,"v":57.1},{"s":"Saddle (2467 m)","d":110.3,"v":54.8},{"s":"Saddle (2467 m)","d":112.4,"v":56.8},{"s":"Saddle (2467 m)","d":114,"v":55.2},{"s":"Saddle (2467 m)","d":115.6,"v":53.6},{"s":"Saddle (2467 m)","d":117,"v":49.7},{"s":"Saddle (2467 m)","d":118.8,"v":52.8},{"s":"Saddle (2467 m)","d":120.4,"v":54.4},{"s":"Saddle (2467 m)","d":121.9,"v":56.8},{"s":"Saddle (2467 m)","d":123.1,"v":52.8},{"s":"Saddle (2467 m)","d":124.9,"v":53.6},{"s":"Saddle (2467 m)","d":126.7,"v":56.8},{"s":"Saddle (2467 m)","d":128.3,"v":59.1},{"s":"Saddle (2467 m)","d":130.4,"v":65},{"s":"Saddle (2467 m)","d":132.6,"v":63},{"s":"Saddle (2467 m)","d":134.6,"v":65.8},{"s":"Saddle (2467 m)","d":136.5,"v":68.1},{"s":"Saddle (2467 m)","d":138.3,"v":65.8},{"s":"Saddle (2467 m)","d":140.7,"v":60.3},{"s":"Saddle (2467 m)","d":142.5,"v":62.2},{"s":"Saddle (2467 m)","d":144,"v":63.8},{"s":"Saddle (2467 m)","d":145.9,"v":63},{"s":"Saddle (2467 m)","d":147.6,"v":57.5},{"s":"Saddle (2467 m)","d":150.4,"v":57.9},{"s":"Saddle (2467 m)","d":152,"v":62.2},{"s":"Saddle (2467 m)","d":154.1,"v":63},{"s":"Saddle (2467 m)","d":155.9,"v":65.8},{"s":"Saddle (2467 m)","d":157.7,"v":68.1},{"s":"Saddle (2467 m)","d":159.5,"v":70.8},{"s":"Saddle (2467 m)","d":160.7,"v":66.9},{"s":"Saddle (2467 m)","d":162.6,"v":67.3},{"s":"Saddle (2467 m)","d":164.4,"v":66.9},{"s":"Saddle (2467 m)","d":166.2,"v":67.7},{"s":"Saddle (2467 m)","d":168,"v":68.5},{"s":"Saddle (2467 m)","d":169.5,"v":66.5},{"s":"Saddle (2467 m)","d":171.1,"v":69.7},{"s":"Saddle (2467 m)","d":172.9,"v":68.9},{"s":"Saddle (2467 m)","d":174.7,"v":69.7},{"s":"Saddle (2467 m)","d":176.5,"v":71.2},{"s":"Saddle (2467 m)","d":178.4,"v":70.4},{"s":"Saddle (2467 m)","d":180.4,"v":72.4},{"s":"Saddle (2467 m)","d":182.4,"v":73.6},{"s":"Saddle (2467 m)","d":183.8,"v":71.6},{"s":"Saddle (2467 m)","d":185.1,"v":70.4},{"s":"Saddle (2467 m)","d":186.9,"v":73.6},{"s":"Saddle (2467 m)","d":188.7,"v":74.7},{"s":"Saddle (2467 m)","d":190.5,"v":73.6},{"s":"Saddle (2467 m)","d":192.3,"v":74.3},{"s":"Saddle (2467 m)","d":194.2,"v":71.2},{"s":"Saddle (2467 m)","d":196,"v":71.6},{"s":"Saddle (2467 m)","d":197.8,"v":69.3},{"s":"Saddle (2467 m)","d":199.4,"v":65},{"s":"Saddle (2467 m)","d":200.8,"v":66.9},{"s":"Saddle (2467 m)","d":202.7,"v":70.8},{"s":"Saddle (2467 m)","d":204.2,"v":74.7},{"s":"Saddle (2467 m)","d":205.1,"v":77.1},{"s":"Saddle (2467 m)","d":206.9,"v":79.4},{"s":"Saddle (2467 m)","d":208.8,"v":81},{"s":"Saddle (2467 m)","d":210,"v":82.6},{"s":"Saddle (2467 m)","d":211.8,"v":80.6},{"s":"Saddle (2467 m)","d":213.6,"v":79},{"s":"Saddle (2467 m)","d":215.5,"v":78.3},{"s":"Saddle (2467 m)","d":216.9,"v":79},{"s":"Saddle (2467 m)","d":218.5,"v":76.7},{"s":"Saddle (2467 m)","d":220.3,"v":79.4},{"s":"Saddle (2467 m)","d":221.8,"v":76.3},{"s":"Saddle (2467 m)","d":223.3,"v":77.1},{"s":"Saddle (2467 m)","d":225.2,"v":76.3},{"s":"Saddle (2467 m)","d":227,"v":77.5},{"s":"Saddle (2467 m)","d":228.6,"v":75.9},{"s":"Saddle (2467 m)","d":230.3,"v":70.4},{"s":"Saddle (2467 m)","d":232.5,"v":69.7},{"s":"Saddle (2467 m)","d":234.3,"v":69.3},{"s":"Saddle (2467 m)","d":235.9,"v":69.7},{"s":"Saddle (2467 m)","d":238,"v":67.3},{"s":"Saddle (2467 m)","d":239.8,"v":67.7},{"s":"Saddle (2467 m)","d":241.9,"v":66.5},{"s":"Saddle (2467 m)","d":243.4,"v":67.7},{"s":"Saddle (2467 m)","d":245.2,"v":63.8},{"s":"Saddle (2467 m)","d":247,"v":63},{"s":"Saddle (2467 m)","d":248.9,"v":62.2},{"s":"Saddle (2467 m)","d":250.7,"v":59.5},{"s":"Saddle (2467 m)","d":252.5,"v":58.3},{"s":"Saddle (2467 m)","d":254.3,"v":60.7},{"s":"Saddle (2467 m)","d":256.2,"v":64.2},{"s":"Saddle (2467 m)","d":258,"v":65.7},{"s":"Saddle (2467 m)","d":259.7,"v":66.1},{"s":"Saddle (2467 m)","d":261.5,"v":68.5},{"s":"Saddle (2467 m)","d":263.4,"v":69.3},{"s":"Saddle (2467 m)","d":264.6,"v":68.1},{"s":"Saddle (2467 m)","d":266.4,"v":65.4},{"s":"Saddle (2467 m)","d":268.2,"v":60.3},{"s":"Saddle (2467 m)","d":270.1,"v":56},{"s":"Saddle (2467 m)","d":271.9,"v":55.2},{"s":"Saddle (2467 m)","d":273.7,"v":51.3},{"s":"Saddle (2467 m)","d":275.5,"v":53.2},{"s":"Saddle (2467 m)","d":277.3,"v":51.3},{"s":"Saddle (2467 m)","d":279.2,"v":54.4},{"s":"Saddle (2467 m)","d":281,"v":50.9},{"s":"Saddle (2467 m)","d":282.8,"v":54.4},{"s":"Saddle (2467 m)","d":284.6,"v":57.5},{"s":"Saddle (2467 m)","d":286.5,"v":59.1},{"s":"Saddle (2467 m)","d":288.3,"v":60.7},{"s":"Saddle (2467 m)","d":290.1,"v":63.8},{"s":"Saddle (2467 m)","d":291.9,"v":64.6},{"s":"Saddle (2467 m)","d":293.1,"v":63},{"s":"Saddle (2467 m)","d":294.4,"v":56.7},{"s":"Saddle (2467 m)","d":295.8,"v":48.9},{"s":"Saddle (2467 m)","d":297.4,"v":44.2},{"s":"Saddle (2467 m)","d":299.2,"v":34.1},{"s":"Saddle (2467 m)","d":301,"v":23.9},{"s":"Saddle (2467 m)","d":302.9,"v":10.6},{"s":"Saddle (2467 m)","d":304.7,"v":2.8},{"s":"Saddle (2467 m)","d":306.5,"v":0},{"s":"Saddle (2467 m)","d":366,"v":0}
]},
"mark": {"type": "line", "strokeWidth": 2, "strokeJoin": "round"},
"encoding": {
  "x": {"field": "d", "type": "quantitative",
    "scale": {"domain": [1, 368], "nice": false, "zero": false},
    "axis": {"values": [1,32,63,94,125,156,187,218,249,280,311,342],
      "labelExpr": "['Jan','Feb','Mar','Apr','May','Jun','Jul','Aug','Sep','Oct','Nov','Dec'][round((datum.value-1)/31)]",
      "title": null, "grid": false, "domainColor": "#d0d0d0", "domainWidth": 1.5, "tickColor": "#d0d0d0", "tickSize": -6,
      "labelFont": "Liberation Serif", "labelFontSize": 19, "labelColor": "#000000", "labelPadding": 20, "labelFlush": false}},
  "y": {"field": "v", "type": "quantitative",
    "scale": {"domain": [0, 100], "nice": false},
    "axis": {"values": [0,10,20,30,40,50,60,70,80,90,100],
      "title": "Probability of a Scienceable Day (%)", "titleFont": "Liberation Serif", "titleFontSize": 17, "titleFontWeight": "normal", "titleColor": "#000000", "titlePadding": 10,
      "grid": false, "domainColor": "#d0d0d0", "domainWidth": 1.5, "tickColor": "#d0d0d0", "tickSize": -6,
      "labelFont": "Liberation Serif", "labelFontSize": 18, "labelColor": "#000000", "labelPadding": 23}},
  "color": {"field": "s", "type": "nominal",
    "scale": {"domain": ["DYE-2 (2049 m)","S-10 (1841 m)","KAN-U (1837 m)","S-9 (1719 m)","NASA_SE (2373 m)","Saddle (2467 m)"],
      "range": ["#1565b0","#00a651","#f5a733","#e8141c","#000000","#5cc8ee"]},
    "legend": {"title": null, "orient": "none", "legendX": 430, "legendY": 236, "padding": 0,
      "symbolType": "stroke", "symbolSize": 484, "symbolStrokeWidth": 2,
      "labelFont": "Liberation Serif", "labelFontSize": 16, "labelColor": "#000000", "labelOffset": 10,
      "clipHeight": 20, "rowPadding": 0.4}}
}
}
